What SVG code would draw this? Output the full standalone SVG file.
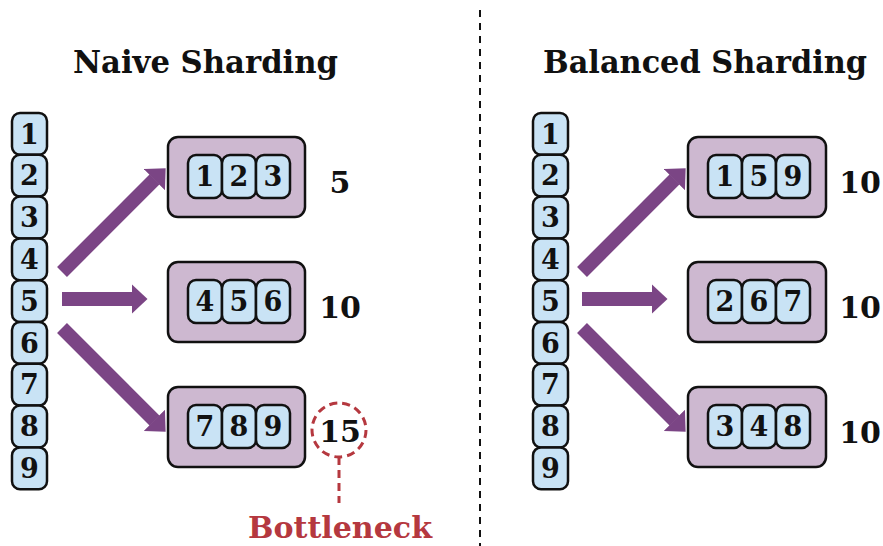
<svg xmlns="http://www.w3.org/2000/svg" width="883" height="546" viewBox="0 0 883 546">
<style>
.title{font-family:"DejaVu Serif","Liberation Serif",serif;font-weight:bold;font-size:32px;fill:#111;text-anchor:middle}
.cell{fill:#c9e3f5;stroke:#111;stroke-width:2.5}
.shard{fill:#cdb8d0;stroke:#111;stroke-width:2.5}
.dig{font-family:"DejaVu Serif","Liberation Serif",serif;font-weight:bold;font-size:27px;fill:#111;text-anchor:middle}
.score{font-family:"DejaVu Serif","Liberation Serif",serif;font-weight:bold;font-size:30px;fill:#111;text-anchor:middle}
.arrow{stroke:#7b4585;stroke-width:14;fill:none;marker-end:url(#ah)}
.red{stroke:#b5383f;stroke-width:3;fill:none;stroke-dasharray:8 5}
</style>
<defs>
<marker id="ah" viewBox="0 0 16 30" markerWidth="16" markerHeight="30" markerUnits="userSpaceOnUse" refX="0.5" refY="15" orient="auto">
<path d="M0,0 L16,15 L0,30 z" fill="#7b4585"/>
</marker>
</defs>
<rect width="883" height="546" fill="#fff"/>
<line x1="480" y1="10" x2="480" y2="546" stroke="#111" stroke-width="2" stroke-dasharray="7 6"/>
<text class="title" x="205.5" y="73" textLength="265" lengthAdjust="spacingAndGlyphs">Naive Sharding</text>
<text class="title" x="705" y="73" textLength="324" lengthAdjust="spacingAndGlyphs">Balanced Sharding</text>

<g id="left-column">
<rect class="cell" x="12" y="113" width="35" height="41.8" rx="8"/>
<rect class="cell" x="12" y="154.8" width="35" height="41.8" rx="8"/>
<rect class="cell" x="12" y="196.6" width="35" height="41.8" rx="8"/>
<rect class="cell" x="12" y="238.4" width="35" height="41.8" rx="8"/>
<rect class="cell" x="12" y="280.2" width="35" height="41.8" rx="8"/>
<rect class="cell" x="12" y="322" width="35" height="41.8" rx="8"/>
<rect class="cell" x="12" y="363.8" width="35" height="41.8" rx="8"/>
<rect class="cell" x="12" y="405.6" width="35" height="41.8" rx="8"/>
<rect class="cell" x="12" y="447.4" width="35" height="41.8" rx="8"/>
<text class="dig" x="29.5" y="143.5">1</text>
<text class="dig" x="29.5" y="185.3">2</text>
<text class="dig" x="29.5" y="227.1">3</text>
<text class="dig" x="29.5" y="268.9">4</text>
<text class="dig" x="29.5" y="310.7">5</text>
<text class="dig" x="29.5" y="352.5">6</text>
<text class="dig" x="29.5" y="394.3">7</text>
<text class="dig" x="29.5" y="436.1">8</text>
<text class="dig" x="29.5" y="477.9">9</text>
</g>

<g id="left-shard-1">
<rect class="shard" x="168" y="137" width="137" height="80" rx="10"/>
<rect class="cell" x="188" y="155" width="34" height="43" rx="8"/>
<rect class="cell" x="222" y="155" width="34" height="43" rx="8"/>
<rect class="cell" x="256" y="155" width="34" height="43" rx="8"/>
<text class="dig" x="205" y="186">1</text>
<text class="dig" x="239" y="186">2</text>
<text class="dig" x="273" y="186">3</text>
<text class="score" x="340" y="193">5</text>
</g>
<g id="left-shard-2">
<rect class="shard" x="168" y="262" width="137" height="80" rx="10"/>
<rect class="cell" x="188" y="280" width="34" height="43" rx="8"/>
<rect class="cell" x="222" y="280" width="34" height="43" rx="8"/>
<rect class="cell" x="256" y="280" width="34" height="43" rx="8"/>
<text class="dig" x="205" y="311">4</text>
<text class="dig" x="239" y="311">5</text>
<text class="dig" x="273" y="311">6</text>
<text class="score" x="340" y="318">10</text>
</g>
<g id="left-shard-3">
<rect class="shard" x="168" y="387" width="137" height="80" rx="10"/>
<rect class="cell" x="188" y="405" width="34" height="43" rx="8"/>
<rect class="cell" x="222" y="405" width="34" height="43" rx="8"/>
<rect class="cell" x="256" y="405" width="34" height="43" rx="8"/>
<text class="dig" x="205" y="436">7</text>
<text class="dig" x="239" y="436">8</text>
<text class="dig" x="273" y="436">9</text>
<text class="score" x="340" y="442">15</text>
</g>
<g id="bottleneck">
<circle class="red" cx="339" cy="430" r="27"/>
<line class="red" x1="339" y1="457" x2="339" y2="503"/>
<text x="340" y="538" font-family="DejaVu Serif, Liberation Serif, serif" font-weight="bold" font-size="30" fill="#b5383f" text-anchor="middle" textLength="184" lengthAdjust="spacingAndGlyphs">Bottleneck</text>
</g>

<g id="right-column">
<rect class="cell" x="533" y="113" width="35" height="41.8" rx="8"/>
<rect class="cell" x="533" y="154.8" width="35" height="41.8" rx="8"/>
<rect class="cell" x="533" y="196.6" width="35" height="41.8" rx="8"/>
<rect class="cell" x="533" y="238.4" width="35" height="41.8" rx="8"/>
<rect class="cell" x="533" y="280.2" width="35" height="41.8" rx="8"/>
<rect class="cell" x="533" y="322" width="35" height="41.8" rx="8"/>
<rect class="cell" x="533" y="363.8" width="35" height="41.8" rx="8"/>
<rect class="cell" x="533" y="405.6" width="35" height="41.8" rx="8"/>
<rect class="cell" x="533" y="447.4" width="35" height="41.8" rx="8"/>
<text class="dig" x="550.5" y="143.5">1</text>
<text class="dig" x="550.5" y="185.3">2</text>
<text class="dig" x="550.5" y="227.1">3</text>
<text class="dig" x="550.5" y="268.9">4</text>
<text class="dig" x="550.5" y="310.7">5</text>
<text class="dig" x="550.5" y="352.5">6</text>
<text class="dig" x="550.5" y="394.3">7</text>
<text class="dig" x="550.5" y="436.1">8</text>
<text class="dig" x="550.5" y="477.9">9</text>
</g>

<g id="right-shard-1">
<rect class="shard" x="688" y="137" width="138" height="80" rx="10"/>
<rect class="cell" x="708" y="155" width="34" height="43" rx="8"/>
<rect class="cell" x="742" y="155" width="34" height="43" rx="8"/>
<rect class="cell" x="776" y="155" width="34" height="43" rx="8"/>
<text class="dig" x="725" y="186">1</text>
<text class="dig" x="759" y="186">5</text>
<text class="dig" x="793" y="186">9</text>
<text class="score" x="860" y="193">10</text>
</g>
<g id="right-shard-2">
<rect class="shard" x="688" y="262" width="138" height="80" rx="10"/>
<rect class="cell" x="708" y="280" width="34" height="43" rx="8"/>
<rect class="cell" x="742" y="280" width="34" height="43" rx="8"/>
<rect class="cell" x="776" y="280" width="34" height="43" rx="8"/>
<text class="dig" x="725" y="311">2</text>
<text class="dig" x="759" y="311">6</text>
<text class="dig" x="793" y="311">7</text>
<text class="score" x="860" y="318">10</text>
</g>
<g id="right-shard-3">
<rect class="shard" x="688" y="387" width="138" height="80" rx="10"/>
<rect class="cell" x="708" y="405" width="34" height="43" rx="8"/>
<rect class="cell" x="742" y="405" width="34" height="43" rx="8"/>
<rect class="cell" x="776" y="405" width="34" height="43" rx="8"/>
<text class="dig" x="725" y="436">3</text>
<text class="dig" x="759" y="436">4</text>
<text class="dig" x="793" y="436">8</text>
<text class="score" x="860" y="443">10</text>
</g>

<g id="connectors">
<line class="arrow" x1="62" y1="272" x2="154.7" y2="179.3"/>
<line class="arrow" x1="62" y1="299" x2="132" y2="299"/>
<line class="arrow" x1="62" y1="328" x2="154.7" y2="420.7"/>
<line class="arrow" x1="582" y1="272" x2="674.7" y2="179.3"/>
<line class="arrow" x1="582" y1="299" x2="652" y2="299"/>
<line class="arrow" x1="582" y1="328" x2="674.7" y2="420.7"/>
</g>
</svg>
